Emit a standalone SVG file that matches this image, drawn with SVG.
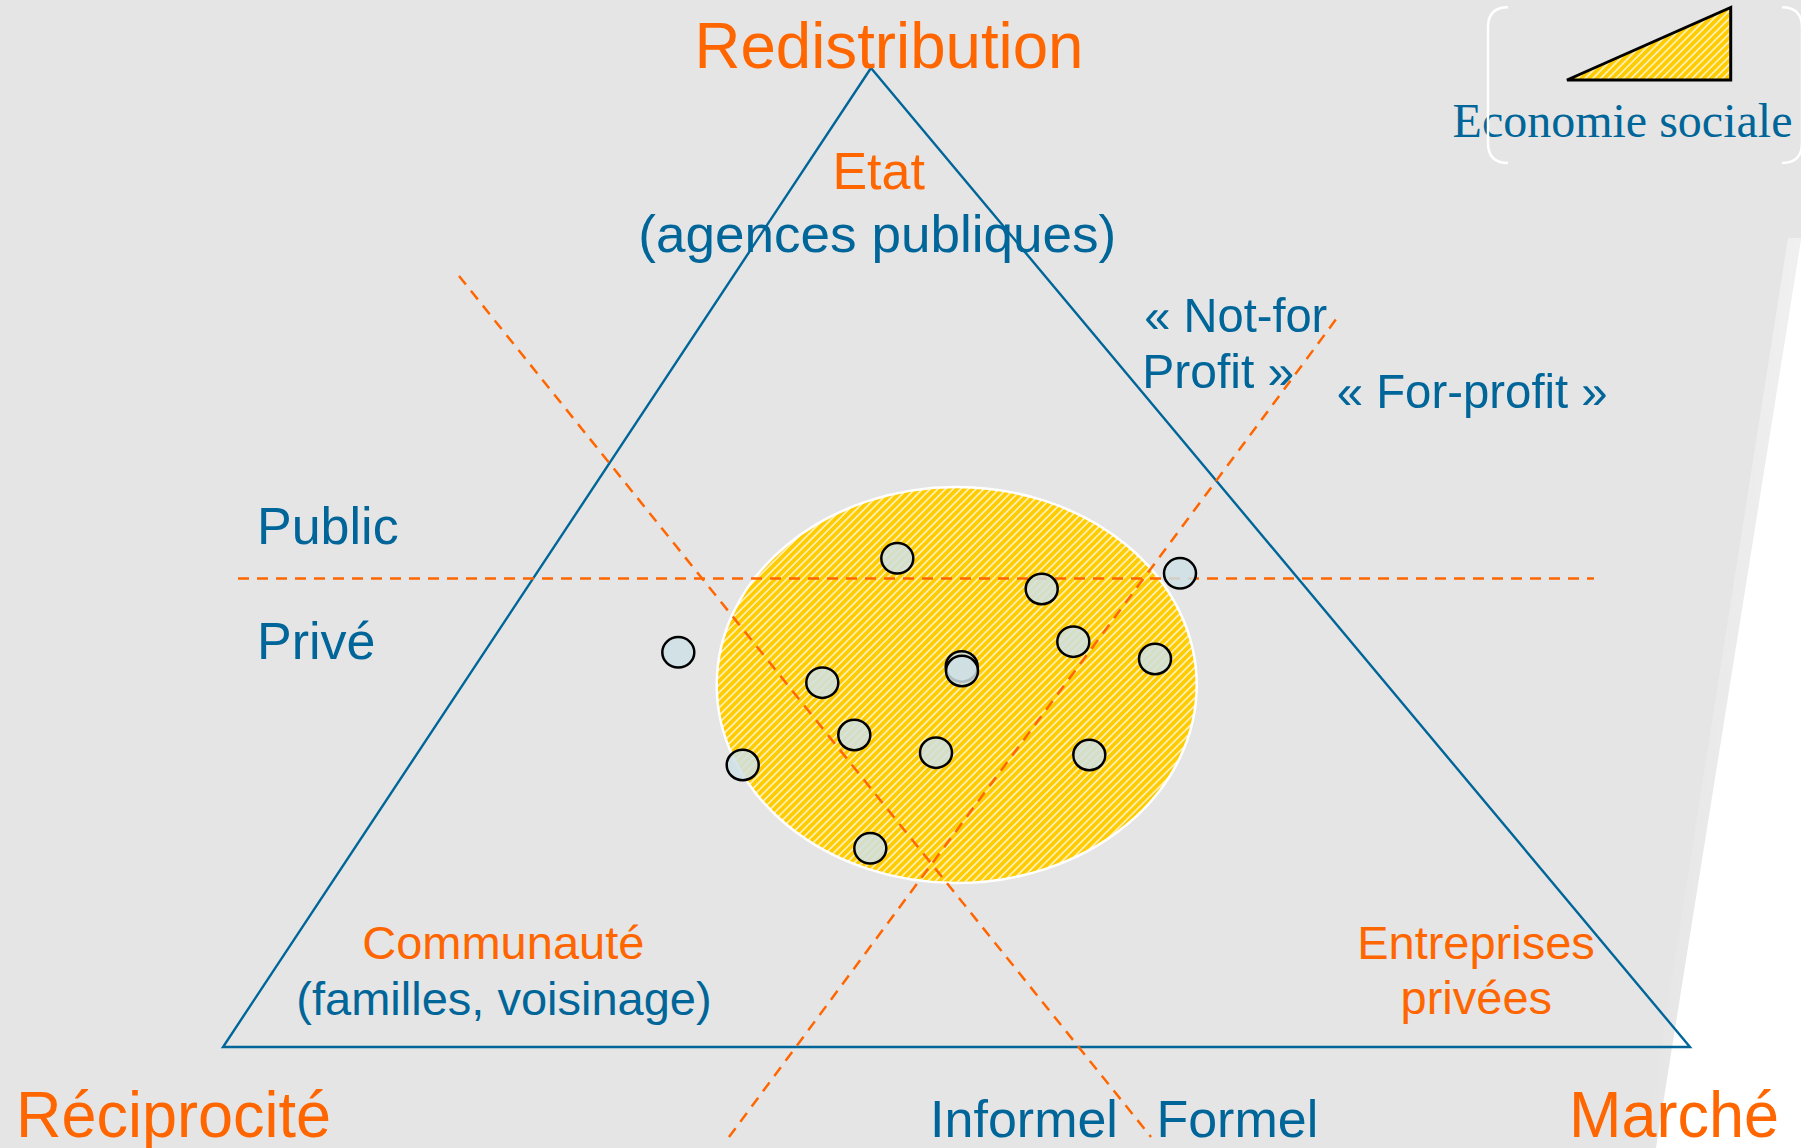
<svg xmlns="http://www.w3.org/2000/svg" width="1801" height="1148" viewBox="0 0 1801 1148">
  <defs>
    <pattern id="hatch" patternUnits="userSpaceOnUse" width="5.4" height="12" patternTransform="rotate(45)">
      <rect width="5.4" height="12" fill="#FFF2C8"/>
      <rect width="3.8" height="12" fill="#FFCC00"/>
    </pattern>
    <linearGradient id="edge" x1="0" y1="0" x2="1" y2="0">
      <stop offset="0" stop-color="#E5E5E5"/>
      <stop offset="1" stop-color="#F0F0F0"/>
    </linearGradient>
    <style>
      .sans { font-family: "Liberation Sans", Arial, sans-serif; }
      .orange { fill: #FF6600; }
      .blue { fill: #006699; }
      .big { font-size: 64px; }
      .mid { font-size: 52px; }
      .small { font-size: 47px; }
      .dash { fill: none; stroke: #FF6600; stroke-width: 2.5; stroke-dasharray: 11 8; }
      .dot { fill: #CFE1E6; fill-opacity: 0.85; stroke: #000; stroke-width: 2.5; }
      .bracket { fill: none; stroke: #FFFFFF; stroke-width: 2.5; }
    </style>
  </defs>

  <!-- slide background with the white wedge on the right -->
  <rect width="1801" height="1148" fill="#E5E5E5"/>
  <polygon points="1788,238 1801,238 1801,1148 1645,1148" fill="url(#edge)"/>
  <polygon points="1801,240 1801,1148 1656,1148" fill="#FFFFFF"/>

  <!-- social economy zone -->
  <g id="zone-economie-sociale">
    <ellipse cx="956.7" cy="685" rx="240" ry="198" fill="url(#hatch)" stroke="#FFFFFF" stroke-width="2.5"/>
  </g>

  <!-- triangle of the three economic principles -->
  <g id="triangle">
    <polygon points="871,68 223,1047 1690,1047" fill="none" stroke="#006699" stroke-width="2.4" stroke-linejoin="miter"/>
  </g>

  <!-- dividing lines: public/private, informal/formal, not-for-profit/for-profit -->
  <g id="connectors">
    <line class="dash" x1="238" y1="578.5" x2="1594" y2="578.5"/>
    <line class="dash" x1="459" y1="276" x2="1151" y2="1137"/>
    <line class="dash" x1="729" y1="1137" x2="1337" y2="318"/>
  </g>

  <!-- organisations -->
  <g id="organisations">
    <ellipse class="dot" cx="897.3" cy="558.3" rx="16" ry="15.2"/>
    <ellipse class="dot" cx="1041.7" cy="589" rx="16" ry="15.2"/>
    <ellipse class="dot" cx="1180" cy="573.3" rx="16" ry="15.2"/>
    <ellipse class="dot" cx="1073.3" cy="641.7" rx="16" ry="15.2"/>
    <ellipse class="dot" cx="1155" cy="659" rx="16" ry="15.2"/>
    <ellipse class="dot" cx="961.7" cy="666.5" rx="16" ry="15.2"/>
    <ellipse class="dot" cx="962" cy="671" rx="16" ry="15.2"/>
    <ellipse class="dot" cx="822.3" cy="682.7" rx="16" ry="15.2"/>
    <ellipse class="dot" cx="854.3" cy="735" rx="16" ry="15.2"/>
    <ellipse class="dot" cx="936" cy="752.7" rx="16" ry="15.2"/>
    <ellipse class="dot" cx="1089.3" cy="755" rx="16" ry="15.2"/>
    <ellipse class="dot" cx="742.7" cy="765" rx="16" ry="15.2"/>
    <ellipse class="dot" cx="870.3" cy="848.3" rx="16" ry="15.2"/>
    <ellipse class="dot" cx="678.3" cy="652.3" rx="16" ry="15.2"/>
  </g>

  <!-- pole labels -->
  <g id="pole-redistribution">
    <text class="sans orange big" x="889" y="67.7" text-anchor="middle" textLength="389" lengthAdjust="spacingAndGlyphs">Redistribution</text>
  </g>
  <g id="pole-reciprocite">
    <text class="sans orange big" x="173.5" y="1136.7" text-anchor="middle" textLength="315" lengthAdjust="spacingAndGlyphs">Réciprocité</text>
  </g>
  <g id="pole-marche">
    <text class="sans orange big" x="1674" y="1137" text-anchor="middle" textLength="210" lengthAdjust="spacingAndGlyphs">Marché</text>
  </g>

  <!-- corner actors -->
  <g id="etat">
    <text class="sans orange mid" x="878.7" y="189" text-anchor="middle">Etat</text>
    <text class="sans blue mid" x="877.3" y="251.7" text-anchor="middle" textLength="478" lengthAdjust="spacingAndGlyphs">(agences publiques)</text>
  </g>
  <g id="communaute">
    <text class="sans orange small" x="503.3" y="959.3" text-anchor="middle">Communauté</text>
    <text class="sans blue small" x="504" y="1015" text-anchor="middle">(familles, voisinage)</text>
  </g>
  <g id="entreprises">
    <text class="sans orange small" x="1476" y="959.3" text-anchor="middle">Entreprises</text>
    <text class="sans orange small" x="1476.3" y="1014" text-anchor="middle">privées</text>
  </g>

  <!-- sector labels -->
  <g id="not-for-profit">
    <text class="sans blue" font-size="49" x="1235.8" y="331.7" text-anchor="middle" textLength="183" lengthAdjust="spacingAndGlyphs">« Not-for</text>
    <text class="sans blue" font-size="49" x="1218.3" y="388.3" text-anchor="middle" textLength="152" lengthAdjust="spacingAndGlyphs">Profit »</text>
  </g>
  <g id="for-profit">
    <text class="sans blue" font-size="49" x="1472.2" y="408.3" text-anchor="middle" textLength="271" lengthAdjust="spacingAndGlyphs">« For-profit »</text>
  </g>
  <g id="public">
    <text class="sans blue mid" x="257" y="544.3">Public</text>
  </g>
  <g id="prive">
    <text class="sans blue mid" x="257" y="659.3">Privé</text>
  </g>
  <g id="informel">
    <text class="sans blue mid" x="1024" y="1136.7" text-anchor="middle">Informel</text>
  </g>
  <g id="formel">
    <text class="sans blue mid" x="1237.3" y="1136.7" text-anchor="middle">Formel</text>
  </g>

  <!-- legend -->
  <g id="legende">
    <polygon points="1567,80 1730.7,7.5 1730.7,80" fill="url(#hatch)" stroke="#000000" stroke-width="3" stroke-linejoin="miter"/>
    <text x="1622.5" y="137.3" text-anchor="middle" font-family="'Liberation Serif', 'Times New Roman', serif" font-size="48" fill="#006699">Economie sociale</text>
    <path class="bracket" d="M1508,7.3 Q1488,7.3 1488,27.3 L1488,143 Q1488,163 1508,163"/>
    <path class="bracket" d="M1782,7.3 Q1802,7.3 1802,27.3 L1802,143 Q1802,163 1782,163"/>
  </g>
</svg>
